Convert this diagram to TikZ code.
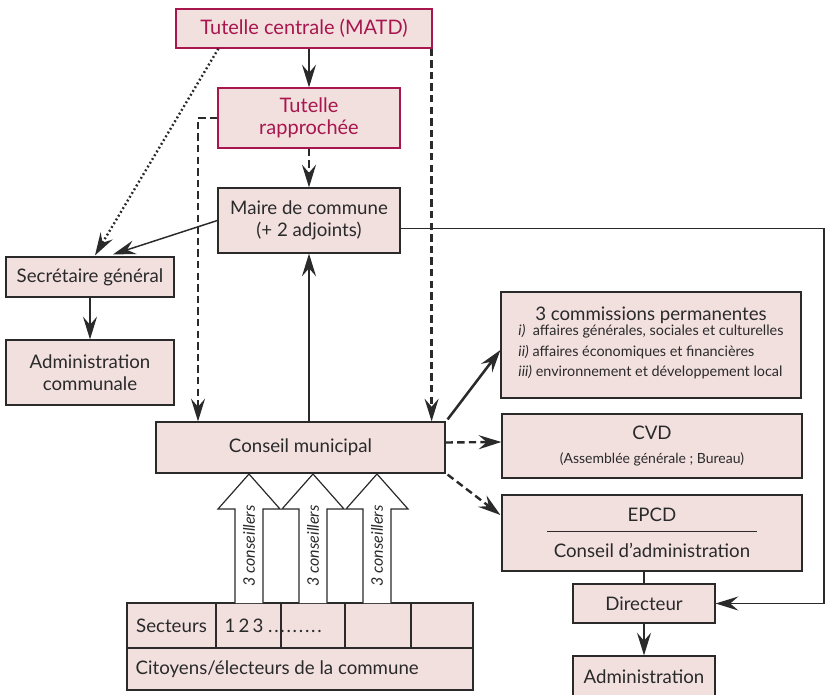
\documentclass[tikz,border=0pt]{standalone}
\usepackage{fontspec}
\setmainfont{Lato}
\usetikzlibrary{arrows.meta,calc}
\definecolor{boxfill}{HTML}{F2E0DF}
\definecolor{crimson}{HTML}{A8164E}
\definecolor{ink}{HTML}{2A2A2A}
\newcommand\dotrun{.\kern1.3pt.\kern1.3pt.\kern1.3pt.\kern1.3pt.\kern1.3pt.\kern1.3pt.\kern1.3pt.\kern1.3pt.}
\begin{document}
\begin{tikzpicture}[x=0.75pt,y=-0.75pt,
  box/.style={draw=ink, fill=boxfill, line width=0.9pt, inner sep=0pt, align=center,
    text=ink, font=\fontsize{14}{16.5}\selectfont},
  tbox/.style={box, draw=crimson, text=crimson},
  tip/.style={-{Stealth[length=17pt,width=10.5pt,inset=6pt]}},
  conn/.style={draw=ink, line width=1.1pt},
  solidarrow/.style={conn, tip},
  thickarrow/.style={conn, tip, line width=1.9pt},
  dasharrow/.style={conn, tip, dash pattern=on 5.5pt off 3.2pt, line width=1.8pt},
  dotarrow/.style={conn, tip, dash pattern=on 1.4pt off 1.9pt, line width=1.8pt},
  blockarrow/.style={draw=ink, fill=white, line width=0.9pt, line join=miter},
  txt/.style={text=ink, font=\fontsize{14}{16.5}\selectfont}
]
\useasboundingbox (0,0) rectangle (831,695);

% supervisory chain
\node[tbox, minimum width=192pt, minimum height=29.25pt, font=\fontsize{15}{17}\selectfont] (tc) at (304,28.5) {Tutelle centrale (MATD)};
\node[tbox, minimum width=136.5pt, minimum height=45pt, font=\fontsize{15}{17}\selectfont] (tr) at (309,118) {Tutelle\\rapprochée};
\node[box, minimum width=136.5pt, minimum height=48.75pt] (maire) at (309,220.5) {Maire de commune\\(+ 2 adjoints)};

% municipal administration
\node[box, minimum width=126pt, minimum height=30pt] (sg) at (90,277) {Secrétaire général};
\node[box, minimum width=126pt, minimum height=48.75pt] (ac) at (90,372.5) {Administration\\communale};

% council
\node[box, minimum width=216.75pt, minimum height=38.25pt] (cm) at (300.5,447.5) {Conseil municipal};

% bodies attached to the council
\node[box, minimum width=225pt, minimum height=79.5pt] (com) at (651,345)
  {3 commissions permanentes\\[-3pt]
   {\fontsize{10.8}{15.5}\selectfont
   \begin{tabular}{@{}l@{}}
   \textit{i)}\ \ affaires générales, sociales et culturelles\\
   \textit{ii)}\ affaires économiques et financières\\
   \textit{iii)} environnement et développement local
   \end{tabular}}};
\node[box, minimum width=225pt, minimum height=48pt] (cvd) at (652,446)
  {CVD\\[1pt]{\fontsize{10.5}{12.5}\selectfont (Assemblée générale ; Bureau)}};
\node[box, minimum width=225pt, minimum height=57pt] (epcd) at (652,533)
  {EPCD\\[-9pt]\rule{157.5pt}{0.6pt}\\[3pt]Conseil d’administration};
\node[box, minimum width=106.5pt, minimum height=29.25pt] (dir) at (644,603.5) {Directeur};
\node[box, minimum width=106.5pt, minimum height=30.75pt] (adm) at (644,676.5) {Administration};

% sectors and citizens
\draw[box] (127,603) rectangle (473,690);
\draw[draw=ink, line width=0.9pt] (127,648) -- (473,648);
\foreach \xx in {216,281,345,411}
  \draw[draw=ink, line width=0.9pt] (\xx,603) -- (\xx,648);
\node[txt] (secteurs) at (171.5,626) {Secteurs};
\node[txt, anchor=west] (numeros) at (220,626) {1\,2\,3 \dotrun};
\node[txt, anchor=west] (citoyens) at (131,669) {Citoyens/électeurs de la commune};

% councillors elected per sector
\foreach \cx [count=\i] in {249,313,377} {
  \draw[blockarrow] (\cx-14,603) -- (\cx-14,509) -- (\cx-31,509) -- (\cx,474)
     -- (\cx+31,509) -- (\cx+14,509) -- (\cx+14,603);
  \node[rotate=90, text=ink, font=\fontsize{12}{14}\selectfont\itshape] (cons\i) at (\cx,546) {3 conseillers};
}

% connectors
\draw[solidarrow] (tr.north |- tc.south) -- (tr.north);
\draw[dasharrow] (tr.south) -- (maire.north);
\draw[dotarrow] ($(tc.south west)+(43,0)$) -- ($(sg.north)+(5,-1)$);
\draw[solidarrow] (maire.west) -- ($(sg.north)+(23,-2)$);
\draw[solidarrow] (sg.south) -- (ac.north);
\coordinate (leftrail) at (198,0);
\draw[dasharrow] (tr.west) -- (tr.west -| leftrail) -- (leftrail |- cm.north);
\draw[dasharrow] ($(tc.south east)+(-1,0)$) -- ($(tc.south east |- cm.north)+(-1,0)$);
\draw[thickarrow] (maire.south |- cm.north) -- (maire.south);
\draw[thickarrow] ($(cm.north east)+(2,-2)$) -- ($(com.west)+(0,5)$);
\draw[dasharrow] ($(cm.east)+(0,-5)$) -- ($(cvd.west)+(0,-4)$);
\draw[dasharrow] ($(cm.south east)+(2,1)$) -- ($(epcd.west)+(-1,-18)$);
\draw[conn] (dir.north |- epcd.south) -- (dir.north);
\draw[solidarrow] (dir.south) -- (adm.north);
\coordinate (maireout) at ($(maire.east)+(0,8)$);
\coordinate (rightrail) at (824,0);
\draw[solidarrow] (maireout) -- (maireout -| rightrail) -- (rightrail |- dir.east) -- (dir.east);
\end{tikzpicture}
\end{document}
